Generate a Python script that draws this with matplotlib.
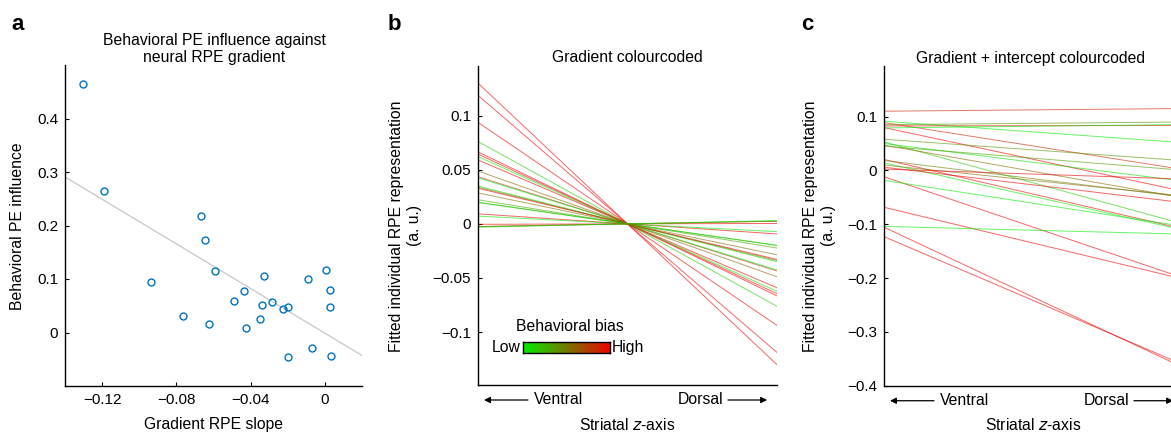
import numpy as np
import matplotlib
matplotlib.use("Agg")
import matplotlib.pyplot as plt
from matplotlib.colors import LinearSegmentedColormap, Normalize
from matplotlib.ticker import FuncFormatter

plt.rcParams['font.family'] = ['Liberation Sans', 'DejaVu Sans']
plt.rcParams['axes.unicode_minus'] = True

# ---------------- data ----------------
# panel a: per-subject neural RPE gradient (slope) and behavioural PE influence
gradient_slope = [-0.1302, -0.1189, -0.0939, -0.0762, -0.0666, -0.0645, -0.0623, -0.0591,
                  -0.0489, -0.0436, -0.0426, -0.0350, -0.0339, -0.0329, -0.0286, -0.0223,
                  -0.0199, -0.0199, -0.0093, -0.0072, 0.0004, 0.0025, 0.0025, 0.0031]
behav_pe = [0.464, 0.264, 0.094, 0.030, 0.218, 0.172, 0.015, 0.115,
            0.059, 0.078, 0.008, 0.025, 0.052, 0.106, 0.057, 0.043,
            0.047, -0.046, 0.100, -0.029, 0.117, 0.080, 0.047, -0.044]
# panel c: per-subject intercept of fitted RPE representation (value at mid striatal z)
intercepts = [-0.2357, -0.2419, -0.1056, -0.0232, -0.1351, -0.0441, -0.0483, 0.0205,
              -0.0019, 0.0453, -0.0611, 0.0150, -0.0154, -0.0269, -0.0187, 0.0227,
              0.0381, 0.0715, -0.0068, -0.1112, 0.0831, 0.1125, 0.0875, 0.0821]
z_ends = [-1.0, 1.0]   # ventral / dorsal ends of standardized striatal z-axis

a_xticks = [-0.12, -0.08, -0.04, 0]
a_yticks = [0, 0.1, 0.2, 0.3, 0.4]
b_yticks = [-0.1, -0.05, 0, 0.05, 0.1]
c_yticks = [-0.4, -0.3, -0.2, -0.1, 0, 0.1]

# ---------------- styling ----------------
W, H = 1171, 434
fig = plt.figure(figsize=(W / 100, H / 100), dpi=100)
FS = 11.3
TFS = 11.3

def pos(l, r, t, b):
    return [l / W, 1 - b / H, (r - l) / W, (b - t) / H]

cmap = LinearSegmentedColormap.from_list('gr', ['#00ee00', '#ee0000'])
norm = Normalize(vmin=0.02, vmax=0.09)
blue = (0.0, 0.447, 0.741)

def fmt(v, _):
    s = '%g' % v
    return s.replace('-', '\u2212')

def style(ax):
    for s in ['top', 'right']:
        ax.spines[s].set_visible(False)
    for s in ['left', 'bottom']:
        ax.spines[s].set_linewidth(1.0)
    ax.tick_params(direction='in', length=3, width=0.8, labelsize=11, pad=5)

def px_text(x, y, s, **kw):
    fig.text(x / W, 1 - y / H, s, **kw)

# ---------------- panel a ----------------
ax = fig.add_axes(pos(65, 362, 65, 386))
style(ax)
xs = np.array(gradient_slope)
ys = np.array(behav_pe)
ax.plot(xs, ys, 'o', mfc='none', mec=blue, ms=5, mew=1.0, zorder=3)
coef = np.polyfit(xs, ys, 1)
xl = np.array([-0.14, 0.02])
ax.plot(xl, np.polyval(coef, xl), color='0.78', lw=0.9, zorder=2)
ax.set_xlim(-0.14, 0.02)
ax.set_ylim(-0.1, 0.5)
ax.set_xticks(a_xticks)
ax.set_yticks(a_yticks)
ax.xaxis.set_major_formatter(FuncFormatter(fmt))
ax.yaxis.set_major_formatter(FuncFormatter(fmt))
px_text(214, 424, 'Gradient RPE slope', fontsize=FS, ha='center', va='center')
px_text(18, 226, 'Behavioral PE influence', fontsize=FS, ha='center', va='center', rotation=90)
px_text(214, 49, 'Behavioral PE influence against\nneural RPE gradient', fontsize=TFS,
        ha='center', va='center', linespacing=1.2)

# ---------------- panels b and c ----------------
def zaxis_labels(ax, left):
    ax.set_xticks([])
    ax.set_xlim(-1, 1)
    ax.annotate('', xy=(0.02, -0.047), xytext=(0.167, -0.047), xycoords='axes fraction',
                arrowprops=dict(arrowstyle='-|>', color='k', lw=0.9, mutation_scale=9,
                                shrinkA=0, shrinkB=0), annotation_clip=False)
    ax.text(0.187, -0.047, 'Ventral', transform=ax.transAxes, ha='left', va='center',
            fontsize=FS)
    ax.text(0.82, -0.047, 'Dorsal', transform=ax.transAxes, ha='right', va='center',
            fontsize=FS)
    ax.annotate('', xy=(0.967, -0.047), xytext=(0.836, -0.047), xycoords='axes fraction',
                arrowprops=dict(arrowstyle='-|>', color='k', lw=0.9, mutation_scale=9,
                                shrinkA=0, shrinkB=0), annotation_clip=False)
    px_text(left + 149.5, 425, 'Striatal $\\it{z}$-axis', ha='center', va='center',
            fontsize=FS)

ylab = 'Fitted individual RPE representation\n(a. u.)'

axb = fig.add_axes(pos(478, 777, 66, 385))
style(axb)
for s, bv in zip(gradient_slope, behav_pe):
    axb.plot(z_ends, [s * z for z in z_ends], color=cmap(norm(bv)), lw=0.7, alpha=0.6)
axb.set_ylim(-0.149, 0.146)
axb.set_yticks(b_yticks)
axb.yaxis.set_major_formatter(FuncFormatter(fmt))
px_text(406, 226, ylab, fontsize=FS, ha='center', va='center', rotation=90, linespacing=1.25)
px_text(627, 58, 'Gradient colourcoded', fontsize=TFS, ha='center', va='center')
zaxis_labels(axb, 478)

# colour legend
cax = axb.inset_axes([0.1505, 0.0994, 0.291, 0.0364])
grad = np.linspace(0, 1, 256)[None, :]
cax.imshow(grad, aspect='auto', cmap=cmap, extent=[0, 1, 0, 1])
cax.set_xticks([])
cax.set_yticks([])
for s in cax.spines.values():
    s.set_linewidth(1.0)
axb.text(0.143, 0.117, 'Low', transform=axb.transAxes, ha='right', va='center', fontsize=FS)
axb.text(0.447, 0.117, 'High', transform=axb.transAxes, ha='left', va='center', fontsize=FS)
axb.text(0.308, 0.182, 'Behavioral bias', transform=axb.transAxes, ha='center', va='center',
         fontsize=FS)

axc = fig.add_axes(pos(884, 1183, 66, 385.7))
style(axc)
for s, b0, bv in zip(gradient_slope, intercepts, behav_pe):
    axc.plot(z_ends, [b0 + s * z for z in z_ends], color=cmap(norm(bv)), lw=0.7, alpha=0.6)
axc.set_ylim(-0.4, 0.194)
axc.set_yticks(c_yticks)
axc.yaxis.set_major_formatter(FuncFormatter(fmt))
px_text(819, 226, ylab, fontsize=FS, ha='center', va='center', rotation=90, linespacing=1.25)
px_text(1031, 58, 'Gradient + intercept colourcoded', fontsize=TFS, ha='center', va='center')
zaxis_labels(axc, 884)

# panel letters
for lbl, x in [('a', 18), ('b', 394), ('c', 807)]:
    px_text(x, 24, lbl, fontsize=16, fontweight='bold', ha='center', va='center')

fig.savefig('out.png', dpi=100)
